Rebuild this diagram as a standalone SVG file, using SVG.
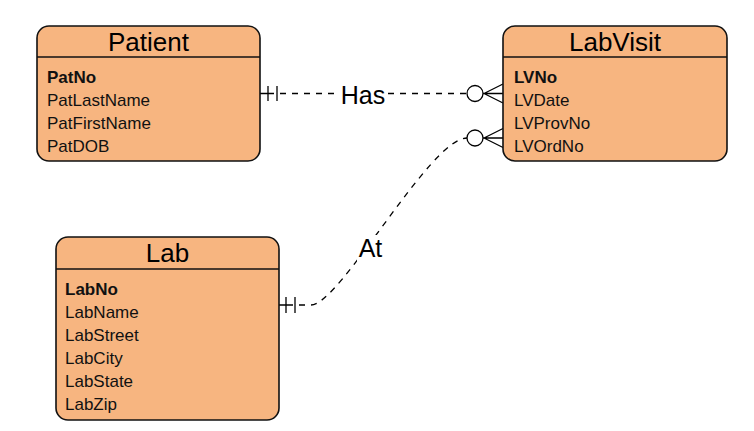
<svg xmlns="http://www.w3.org/2000/svg" width="754" height="431" viewBox="0 0 754 431">
<style>
.box{fill:#F7B580;stroke:#111;stroke-width:1.6}
.sep{stroke:#111;stroke-width:1.6}
.title{font-family:"Liberation Sans",Arial,sans-serif;font-size:26px;fill:#000;text-anchor:middle}
.attr{font-family:"Liberation Sans",Arial,sans-serif;font-size:17px;fill:#111}
.pk{font-weight:bold}
.edge{fill:none;stroke:#000;stroke-width:1.3;stroke-dasharray:6 6}
.mark{fill:none;stroke:#000;stroke-width:1.3}
.circ{fill:#fff;stroke:#000;stroke-width:1.3}
.lbl{font-family:"Liberation Sans",Arial,sans-serif;font-size:25px;fill:#000;text-anchor:middle}
</style>
<rect width="754" height="431" fill="#fff"/>
<g id="connectors">
  <g id="edge-has">
    <path class="edge" d="M268,93.5 L467,93.5"/>
    <path class="mark" d="M260,93.5 L268,93.5 M268,86 L268,101 M277,86 L277,101"/>
    <circle class="circ" cx="475" cy="93.5" r="8"/>
    <path class="mark" d="M483,93.5 L503,93.5 M484,93.5 L503,84 M484,93.5 L503,103"/>
    <rect x="339" y="82" width="48" height="24" fill="#fff"/>
    <text class="lbl" x="363" y="104">Has</text>
  </g>
  <g id="edge-at">
    <path class="edge" d="M287,305 L311,305 C340,305 430,138 467,138"/>
    <path class="mark" d="M279,305 L287,305 M286,297 L286,313 M295,297 L295,313"/>
    <circle class="circ" cx="475" cy="138" r="8"/>
    <path class="mark" d="M483,138 L503,138 M484,138 L503,128.5 M484,138 L503,147.5"/>
    <rect x="357" y="235" width="27" height="27" fill="#fff"/>
    <text class="lbl" x="370.5" y="257">At</text>
  </g>
</g>
<g id="node-patient">
  <rect class="box" x="37" y="26" width="223" height="135" rx="12"/>
  <line class="sep" x1="37" y1="57" x2="260" y2="57"/>
  <text class="title" x="148.5" y="51">Patient</text>
  <text class="attr pk" x="47" y="83">PatNo</text>
  <text class="attr" x="47" y="106">PatLastName</text>
  <text class="attr" x="47" y="129">PatFirstName</text>
  <text class="attr" x="47" y="152">PatDOB</text>
</g>
<g id="node-labvisit">
  <rect class="box" x="503" y="26" width="224" height="135" rx="12"/>
  <line class="sep" x1="503" y1="57" x2="727" y2="57"/>
  <text class="title" x="615" y="51">LabVisit</text>
  <text class="attr pk" x="514" y="83">LVNo</text>
  <text class="attr" x="514" y="106">LVDate</text>
  <text class="attr" x="514" y="129">LVProvNo</text>
  <text class="attr" x="514" y="152">LVOrdNo</text>
</g>
<g id="node-lab">
  <rect class="box" x="56" y="237" width="223" height="183" rx="12"/>
  <line class="sep" x1="56" y1="269" x2="279" y2="269"/>
  <text class="title" x="167.5" y="262">Lab</text>
  <text class="attr pk" x="65" y="295">LabNo</text>
  <text class="attr" x="65" y="318">LabName</text>
  <text class="attr" x="65" y="341">LabStreet</text>
  <text class="attr" x="65" y="364">LabCity</text>
  <text class="attr" x="65" y="387">LabState</text>
  <text class="attr" x="65" y="410">LabZip</text>
</g>
</svg>
